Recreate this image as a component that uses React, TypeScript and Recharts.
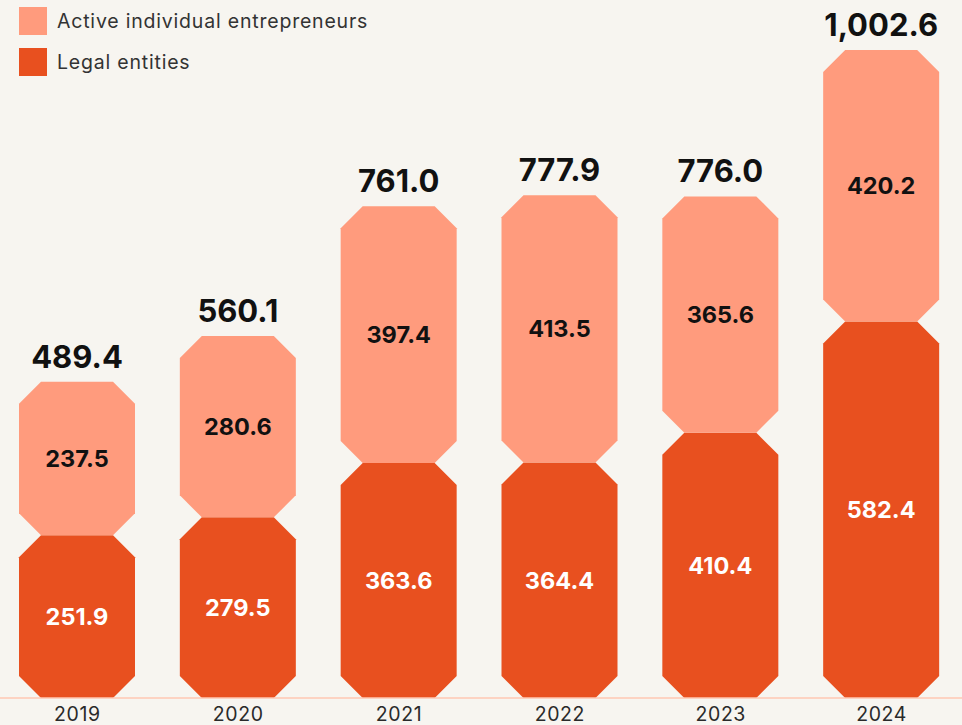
import React from "react";
import { BarChart, Bar, XAxis, YAxis, LabelList } from "recharts";

const years = ["2019", "2020", "2021", "2022", "2023", "2024"];
const legalEntities = [251.9, 279.5, 363.6, 364.4, 410.4, 582.4];
const individualEntrepreneurs = [237.5, 280.6, 397.4, 413.5, 365.6, 420.2];
const totals = [489.4, 560.1, 761.0, 777.9, 776.0, 1002.6];

const LIGHT = "#FF9B7D";
const DARK = "#E8501F";
const BG = "#F7F5F0";

const data = years.map((y, i) => ({
  year: y,
  legal: legalEntities[i],
  individual: individualEntrepreneurs[i],
  total: totals[i],
}));

const Octagon = (props: any) => {
  const { x, y, width, height, fill } = props;
  if (!height || height <= 0) return null;
  const c = Math.min(22, height / 2, width / 2);
  const d = `M${x + c},${y} L${x + width - c},${y} L${x + width},${y + c} L${x + width},${y + height - c} L${x + width - c},${y + height} L${x + c},${y + height} L${x},${y + height - c} L${x},${y + c} Z`;
  return <path d={d} fill={fill} />;
};

const fmt = (v: any) =>
  Number(v).toLocaleString("en-US", { minimumFractionDigits: 1, maximumFractionDigits: 1 });

const FONT = "Inter, 'DejaVu Sans', sans-serif";

export default function App() {
  return (
    <div style={{ position: "absolute", left: 0, top: 0, width: 962, height: 725, background: BG }}>
      <BarChart
        width={962}
        height={725}
        data={data}
        margin={{ top: 50, right: 0, left: -3, bottom: 0 }}
        barCategoryGap={0}
      >
        <YAxis hide domain={[0, 1002.6]} />
        <XAxis
          dataKey="year"
          height={27}
          tickLine={false}
          axisLine={{ stroke: "#FFC7B3", strokeWidth: 1.5 }}
          tick={{ fill: "#2A2A2A", fontSize: 19.5, fontFamily: FONT, letterSpacing: 0.6 }}
          tickMargin={3}
          interval={0}
        />
        <Bar dataKey="legal" stackId="a" fill={DARK} barSize={116} shape={<Octagon />} isAnimationActive={false}>
          <LabelList
            dataKey="legal"
            position="center"
            formatter={fmt}
            style={{ fill: "#FFFFFF", fontSize: 23.5, fontWeight: 700, fontFamily: FONT }}
          />
        </Bar>
        <Bar dataKey="individual" stackId="a" fill={LIGHT} barSize={116} shape={<Octagon />} isAnimationActive={false}>
          <LabelList
            dataKey="individual"
            position="center"
            formatter={fmt}
            style={{ fill: "#111111", fontSize: 23.5, fontWeight: 700, fontFamily: FONT }}
          />
          <LabelList
            dataKey="total"
            position="top"
            offset={14}
            formatter={fmt}
            style={{ fill: "#111111", fontSize: 31, fontWeight: 700, fontFamily: FONT }}
          />
        </Bar>
      </BarChart>
      <div style={{ position: "absolute", left: 19, top: 7, fontFamily: FONT, fontSize: 19.5, color: "#333333", letterSpacing: 0.8 }}>
        <div style={{ display: "flex", alignItems: "center", height: 28, marginBottom: 13 }}>
          <div style={{ width: 28, height: 28, background: LIGHT, marginRight: 10 }} />
          <span>Active individual entrepreneurs</span>
        </div>
        <div style={{ display: "flex", alignItems: "center", height: 28 }}>
          <div style={{ width: 28, height: 28, background: DARK, marginRight: 10 }} />
          <span>Legal entities</span>
        </div>
      </div>
    </div>
  );
}
